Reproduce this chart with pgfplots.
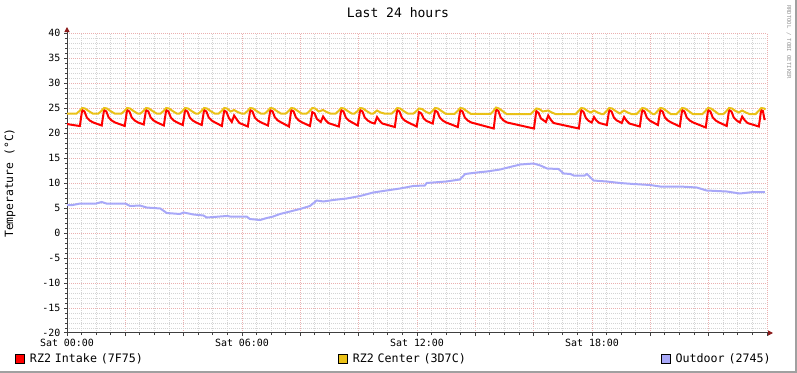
\documentclass[border=0pt]{standalone}
\usepackage{fontspec}
\setmainfont{DejaVu Sans Mono}
\usepackage{pgfplots}
\pgfplotsset{compat=1.18}
\usetikzlibrary{arrows.meta}
\definecolor{rzred}{HTML}{FF0000}
\definecolor{rzgold}{HTML}{EAC117}
\definecolor{outblue}{HTML}{A8A8F8}
\definecolor{mgrid}{HTML}{EBB0B0}
\definecolor{mingrid}{HTML}{D4D4D4}
\definecolor{axisgray}{HTML}{404040}
\definecolor{arrowred}{HTML}{8B1A1A}
\definecolor{frame}{HTML}{A0A0A0}
\definecolor{wmark}{HTML}{959595}
\begin{document}
\begin{tikzpicture}[x=1bp,y=1bp]
\begin{axis}[
  at={(67bp,40bp)}, anchor=south west,
  scale only axis, width=700bp, height=300bp,
  xmin=0, xmax=24, ymin=-20, ymax=40,
  axis lines=left,
  axis line style={draw=axisgray, line width=1bp},
  x axis line style={-{Triangle[length=5bp,width=5bp,color=arrowred]}, shorten >=-6bp},
  y axis line style={-{Triangle[length=5bp,width=5bp,color=arrowred]}, shorten >=-6bp},
  xtick={0,2,...,24},
  xticklabels={Sat 00:00,,,Sat 06:00,,,Sat 12:00,,,Sat 18:00,,,},
  minor x tick num=3,
  ytick={-20,-15,...,40}, minor y tick num=4,
  grid=both,
  major grid style={mgrid, line width=1bp, dash pattern=on 1bp off 1bp},
  minor grid style={mingrid, line width=1bp, dash pattern=on 1bp off 1bp},
  tick style={axisgray, line width=1bp},
  major tick length=3bp, minor tick length=2bp, tick align=outside,
  ticklabel style={font=\fontsize{10}{12}\selectfont},
  /pgf/number format/assume math mode=true,
  ylabel={Temperature (°C)},
  every axis y label/.style={at={(rel axis cs:-0.0814,0.5)}, rotate=90, anchor=center, font=\fontsize{11.4}{13}\selectfont},
  legend columns=3,
  legend style={at={(rel axis cs:-0.0743,-0.085)}, anchor=west, draw=none, fill=none, inner sep=0pt,
    font=\fontsize{11.7}{13}\selectfont, nodes={text width=304bp, align=left},
    /tikz/every odd column/.append style={column sep=3bp},
    /tikz/every even column/.append style={column sep=2bp}},
  legend image code/.code={\draw[#1, line width=0.8bp] (0bp,-4.5bp) rectangle (9bp,4.5bp);},
]
\addplot[rzred, line width=2bp, forget plot] coordinates {
(0.00,21.8) (0.20,21.6) (0.44,21.4)
(0.52,24.6) (0.60,24.3) (0.68,23.1) (0.78,22.5) (0.90,22.1) (1.19,21.5)
(1.27,24.6) (1.35,24.3) (1.43,23.1) (1.53,22.5) (1.65,22.1) (1.98,21.4)
(2.06,24.6) (2.14,24.3) (2.22,23.1) (2.32,22.5) (2.44,22.1) (2.63,21.7)
(2.71,24.6) (2.79,24.3) (2.87,23.1) (2.97,22.5) (3.09,22.1) (3.32,21.5)
(3.40,24.6) (3.48,24.3) (3.56,23.1) (3.66,22.5) (3.78,22.1) (3.97,21.6)
(4.05,24.6) (4.13,24.3) (4.21,23.1) (4.31,22.5) (4.43,22.1) (4.62,21.6)
(4.70,24.6) (4.78,24.3) (4.86,23.1) (4.96,22.5) (5.08,22.1) (5.31,21.4)
(5.39,24.5) (5.47,24.2) (5.55,23.0) (5.65,22.2)
(5.73,23.5) (5.81,22.8) (5.91,22.0) (6.20,21.3)
(6.28,24.6) (6.36,24.3) (6.44,23.1) (6.54,22.5) (6.66,22.1) (6.89,21.5)
(6.97,24.6) (7.05,24.3) (7.13,23.1) (7.23,22.5) (7.35,22.1) (7.61,21.3)
(7.69,24.6) (7.77,24.3) (7.85,23.1) (7.95,22.5) (8.07,22.1) (8.33,21.4)
(8.41,24.2) (8.49,23.9) (8.57,22.8) (8.70,22.2)
(8.78,23.3) (8.86,22.6) (8.96,22.0) (9.32,21.3)
(9.40,24.6) (9.48,24.3) (9.56,23.1) (9.66,22.5) (9.78,22.1) (9.97,21.5)
(10.05,24.6) (10.13,24.3) (10.21,23.1) (10.31,22.5) (10.43,22.1) (10.55,21.9)
(10.63,23.2) (10.71,22.5) (10.81,21.9) (11.24,21.2)
(11.32,24.6) (11.40,24.3) (11.48,23.1) (11.58,22.5) (11.70,22.1) (11.99,21.3)
(12.07,24.2) (12.15,23.9) (12.23,22.9) (12.33,22.4) (12.54,21.9)
(12.62,24.5) (12.70,24.2) (12.78,23.1) (12.88,22.5) (13.00,22.1) (13.40,21.2)
(13.48,24.6) (13.56,24.3) (13.64,23.1) (13.74,22.5) (13.86,22.1) (14.63,20.9)
(14.71,24.7) (14.79,24.4) (14.87,23.1) (14.97,22.5) (15.09,22.1) (16.01,20.9)
(16.09,24.4) (16.17,24.0) (16.25,22.9) (16.42,22.2)
(16.50,23.5) (16.58,22.7) (16.68,22.0) (17.55,20.9)
(17.63,24.6) (17.71,24.2) (17.79,23.0) (17.89,22.4) (17.99,22.1)
(18.07,23.2) (18.15,22.5) (18.25,22.0) (18.51,21.6)
(18.59,24.6) (18.67,24.3) (18.75,23.1) (18.85,22.5) (19.02,22.0)
(19.10,23.2) (19.18,22.5) (19.28,21.9) (19.64,21.3)
(19.72,24.6) (19.80,24.3) (19.88,23.1) (19.98,22.5) (20.10,22.1) (20.26,21.6)
(20.34,24.6) (20.42,24.3) (20.50,23.1) (20.60,22.5) (20.72,22.1) (21.01,21.3)
(21.09,24.6) (21.17,24.3) (21.25,23.1) (21.35,22.5) (21.47,22.1) (21.90,21.1)
(21.98,24.6) (22.06,24.3) (22.14,23.1) (22.24,22.5) (22.36,22.1) (22.62,21.4)
(22.70,24.6) (22.78,24.3) (22.86,23.1) (22.96,22.5) (23.07,22.1)
(23.15,23.3) (23.23,22.6) (23.33,22.0) (23.72,21.3)
(23.80,24.6) (23.86,24.4) (23.91,22.8) (23.95,22.8)
};
\addplot[rzgold, line width=2bp, forget plot] coordinates {
(0.00,23.9)
(0.33,23.9)(0.43,24.4)(0.52,25.0)(0.62,24.9)(0.74,24.4)(0.88,23.9)
(1.08,23.9)(1.18,24.4)(1.27,25.0)(1.37,24.9)(1.49,24.4)(1.63,23.9)
(1.87,23.9)(1.97,24.4)(2.06,25.0)(2.16,24.9)(2.28,24.4)(2.42,23.9)
(2.52,23.9)(2.62,24.4)(2.71,25.0)(2.81,24.9)(2.93,24.4)(3.07,23.9)
(3.21,23.9)(3.31,24.4)(3.40,25.0)(3.50,24.9)(3.62,24.4)(3.76,23.9)
(3.86,23.9)(3.96,24.4)(4.05,25.0)(4.15,24.9)(4.27,24.4)(4.41,23.9)
(4.51,23.9)(4.61,24.4)(4.70,25.0)(4.80,24.9)(4.92,24.4)(5.06,23.9)
(5.20,23.9)(5.30,24.4)(5.39,25.0)(5.49,24.9)(5.61,24.3)
(5.73,24.6)(5.85,24.2)(5.98,23.9)
(6.09,23.9)(6.19,24.4)(6.28,25.0)(6.38,24.9)(6.50,24.4)(6.64,23.9)
(6.78,23.9)(6.88,24.4)(6.97,25.0)(7.07,24.9)(7.19,24.4)(7.33,23.9)
(7.50,23.9)(7.60,24.4)(7.69,25.0)(7.79,24.9)(7.91,24.4)(8.05,23.9)
(8.22,23.9)(8.32,24.4)(8.41,25.0)(8.51,24.9)(8.63,24.3)
(8.78,24.6)(8.90,24.2)(9.03,23.9)
(9.21,23.9)(9.31,24.4)(9.40,25.0)(9.50,24.9)(9.62,24.4)(9.76,23.9)
(9.86,23.9)(9.96,24.4)(10.05,25.0)(10.15,24.9)(10.27,24.4)(10.41,23.9)
(10.50,23.9)(10.63,24.5)(10.75,24.1)(10.88,23.9)
(11.13,23.9)(11.23,24.4)(11.32,25.0)(11.42,24.9)(11.54,24.4)(11.68,23.9)
(11.88,23.9)(11.98,24.4)(12.07,24.9)(12.17,24.8)(12.29,24.3)(12.43,23.9)
(12.53,24.4)(12.62,25.0)(12.72,24.9)(12.84,24.4)(12.98,23.85)
(13.29,23.85)(13.39,24.4)(13.48,25.0)(13.58,24.9)(13.70,24.4)(13.84,23.85)
(14.52,23.8)(14.62,24.4)(14.71,25.1)(14.81,24.9)(14.93,24.4)(15.07,23.8)
(15.90,23.8)(16.00,24.4)(16.09,24.9)(16.19,24.8)(16.31,24.3)
(16.50,24.5)(16.62,24.1)(16.75,23.8)
(17.44,23.8)(17.54,24.4)(17.63,25.0)(17.73,24.9)(17.85,24.4)
(17.96,24.1)(18.07,24.5)(18.19,24.1)(18.32,23.8)
(18.40,23.8)(18.50,24.4)(18.59,25.0)(18.69,24.9)(18.81,24.4)(18.95,23.9)
(19.10,24.5)(19.22,24.1)(19.35,23.8)
(19.53,23.8)(19.63,24.4)(19.72,25.0)(19.82,24.9)(19.94,24.4)(20.08,23.8)
(20.15,23.8)(20.25,24.4)(20.34,25.0)(20.44,24.9)(20.56,24.4)(20.70,23.8)
(20.90,23.8)(21.00,24.4)(21.09,25.0)(21.19,24.9)(21.31,24.4)(21.45,23.8)
(21.79,23.8)(21.89,24.4)(21.98,25.0)(22.08,24.9)(22.20,24.4)(22.34,23.8)
(22.51,23.8)(22.61,24.4)(22.70,25.0)(22.80,24.9)(22.92,24.4)
(23.03,24.1)(23.15,24.5)(23.27,24.1)(23.40,23.8)
(23.61,23.8)(23.71,24.4)(23.80,25.0)(23.90,24.9)(23.95,24.7)
};
\addplot[outblue, line width=2bp, forget plot] coordinates {
(0,5.6) (0.2,5.6) (0.45,5.9) (1.0,5.9) (1.19,6.2) (1.35,5.9) (2.0,5.9) (2.16,5.4)
(2.5,5.5) (2.73,5.1) (3.2,4.9) (3.42,4.0) (3.87,3.8) (4.0,4.1) (4.34,3.7) (4.68,3.5)
(4.79,3.1) (5.25,3.3) (5.48,3.4) (5.59,3.3) (6.16,3.3) (6.27,2.8) (6.62,2.6) (6.85,3.0)
(7.07,3.3) (7.3,3.8) (7.65,4.3) (7.99,4.8) (8.33,5.4) (8.56,6.5) (8.79,6.3) (9.13,6.6)
(9.59,6.9) (10.05,7.4) (10.5,8.1) (11.07,8.6) (11.42,8.9) (11.87,9.4) (12.27,9.5)
(12.33,10.0) (13.0,10.3) (13.47,10.7) (13.65,11.8) (14.05,12.1) (14.39,12.3) (14.85,12.7)
(15.19,13.2) (15.54,13.7) (16.0,13.9) (16.23,13.5) (16.46,12.9) (16.85,12.8) (17.03,11.9)
(17.26,11.8) (17.37,11.5) (17.75,11.5) (17.83,11.8) (17.9,11.4) (18.05,10.5) (18.5,10.3)
(18.96,10.0) (19.42,9.8) (19.99,9.6) (20.33,9.3) (21.02,9.3) (21.59,9.1) (21.93,8.5)
(22.62,8.3) (23.07,7.9) (23.53,8.2) (23.93,8.2)
};
\addlegendimage{draw=black, fill=rzred}
\addlegendentry{RZ2 Intake (7F75)}
\addlegendimage{draw=black, fill=rzgold}
\addlegendentry{RZ2 Center (3D7C)}
\addlegendimage{draw=black, fill=outblue}
\addlegendentry{Outdoor (2745)}
\end{axis}
\node[font=\fontsize{13.1}{15}\selectfont] at (398bp,360bp) {Last 24 hours};
\node[rotate=-90, anchor=west, inner sep=0pt, font=\fontsize{5.6}{6}\selectfont, text=wmark] at (789bp,368bp) {RRDTOOL / TOBI OETIKER};
\fill[frame] (0bp,0bp) rectangle (797bp,2bp);
\fill[frame] (795bp,0bp) rectangle (797bp,373bp);
\pgfresetboundingbox
\path[use as bounding box] (0bp,0bp) rectangle (797bp,373bp);
\end{tikzpicture}
\end{document}
